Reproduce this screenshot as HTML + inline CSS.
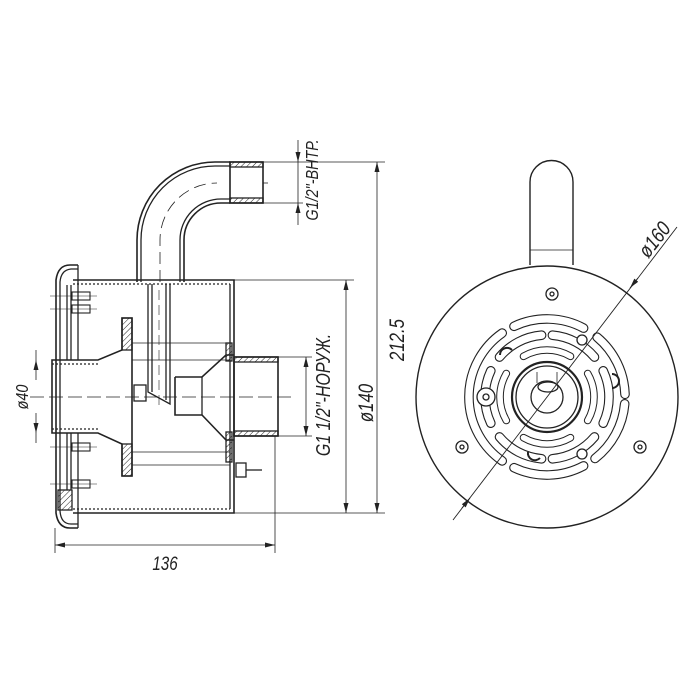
<!DOCTYPE html>
<html><head><meta charset="utf-8"><style>
html,body{margin:0;padding:0;background:#fff;width:700px;height:700px;overflow:hidden}
svg{display:block}
text{font-family:"Liberation Sans",sans-serif;font-style:italic;fill:#222}
</style></head><body>
<svg width="700" height="700" viewBox="0 0 700 700" xmlns="http://www.w3.org/2000/svg" fill="none" stroke="#222" stroke-width="1.3">
<defs>
<marker id="a" viewBox="0 0 12 6" refX="12" refY="3" markerWidth="12" markerHeight="5" markerUnits="userSpaceOnUse" orient="auto-start-reverse"><path d="M0,0 L12,3 L0,6 z" fill="#222" stroke="none"/></marker>
<pattern id="h" width="4" height="4" patternUnits="userSpaceOnUse" patternTransform="rotate(45)"><line x1="0" y1="0" x2="0" y2="4" stroke="#222" stroke-width="1"/></pattern>
</defs>
<!-- LEFT VIEW -->
<path d="M137,282 V240 A78,78 0 0 1 215,162 H230" stroke-width="1.6"/>
<path d="M141,282 V240 A74,74 0 0 1 215,166 H230"/>
<path d="M184,282 V240 A37,37 0 0 1 221,203 H230" stroke-width="1.6"/>
<path d="M180,282 V240 A41,41 0 0 1 221,199 H230"/>
<path d="M160,282 V240 A57,57 0 0 1 217,183" stroke-dasharray="12,6" stroke-width="0.8"/>
<rect x="230" y="162" width="33" height="41" stroke-width="1.6"/>
<rect x="230" y="162" width="33" height="5" fill="url(#h)"/>
<rect x="230" y="198" width="33" height="5" fill="url(#h)"/>
<line x1="263" y1="183" x2="268" y2="183" stroke-width="0.8"/>
<path d="M73,280 H234 V513 H73" stroke-width="1.6"/>
<line x1="73" y1="284" x2="230" y2="284" stroke-dasharray="2,2"/>
<line x1="73" y1="509" x2="230" y2="509" stroke-dasharray="2,2"/>
<line x1="230" y1="284" x2="230" y2="509"/>
<path d="M78,265 H70 Q58,265 56,280 V513 Q58,528 70,528 H78" stroke-width="1.6"/>
<path d="M78,269 H71 Q61,270 60,282 V511 Q61,524 71,524 H78"/>
<line x1="78" y1="265" x2="78" y2="360"/><line x1="78" y1="433" x2="78" y2="528"/>
<line x1="67" y1="285" x2="67" y2="360"/><line x1="71" y1="285" x2="71" y2="360"/>
<line x1="67" y1="433" x2="67" y2="490"/><line x1="71" y1="433" x2="71" y2="490"/>
<rect x="58" y="490" width="14" height="20" fill="url(#h)"/>
<g stroke-width="1.1"><rect x="72" y="292" width="18" height="8"/><rect x="72" y="305" width="18" height="8"/><rect x="72" y="443" width="18" height="8"/><rect x="72" y="480" width="18" height="8"/>
<line x1="50" y1="296" x2="97" y2="296" stroke-width="0.6"/><line x1="50" y1="309" x2="97" y2="309" stroke-width="0.6"/><line x1="50" y1="447" x2="97" y2="447" stroke-width="0.6"/><line x1="50" y1="484" x2="97" y2="484" stroke-width="0.6"/></g>
<path d="M52,360 H98 L122,350 V318 H132 V476 H122 V444 L98,433 H52 Z" stroke-width="1.6"/>
<rect x="122" y="318" width="10" height="32" fill="url(#h)"/>
<rect x="122" y="444" width="10" height="32" fill="url(#h)"/>
<line x1="52" y1="364" x2="98" y2="364" stroke-dasharray="2,2"/>
<line x1="52" y1="429" x2="98" y2="429" stroke-dasharray="2,2"/>
<line x1="132" y1="343" x2="230" y2="343" stroke-width="0.8"/>
<line x1="132" y1="360" x2="230" y2="360" stroke-width="0.8"/>
<line x1="132" y1="452" x2="230" y2="452" stroke-width="0.8"/>
<line x1="132" y1="465" x2="230" y2="465" stroke-width="0.8"/>
<path d="M148,284 V392 L170,404 V284"/>
<line x1="152" y1="284" x2="152" y2="392"/><line x1="166" y1="284" x2="166" y2="400"/>
<line x1="159" y1="290" x2="159" y2="405" stroke-dasharray="10,5" stroke-width="0.6"/>
<rect x="134" y="385" width="12" height="16"/>
<path d="M175,377 H202 L226,355 H234 M175,377 V415 H202 L226,440 H234" stroke-width="1.6"/>
<line x1="202" y1="377" x2="202" y2="415"/>
<rect x="226" y="343" width="6" height="18" fill="url(#h)"/>
<rect x="226" y="432" width="6" height="30" fill="url(#h)"/>
<rect x="234" y="357" width="44" height="79" stroke-width="1.6"/>
<rect x="234" y="357" width="44" height="5" fill="url(#h)"/>
<rect x="234" y="431" width="44" height="5" fill="url(#h)"/>
<rect x="236" y="463" width="10" height="14"/><line x1="246" y1="470" x2="262" y2="470"/>
<line x1="30" y1="397" x2="292" y2="397" stroke-dasharray="14,5" stroke-width="0.7"/>
<g stroke-width="0.8">
<line x1="263" y1="162" x2="385" y2="162"/><line x1="234" y1="513" x2="385" y2="513"/>
<line x1="377" y1="162" x2="377" y2="513" marker-start="url(#a)" marker-end="url(#a)"/>
<line x1="234" y1="280" x2="354" y2="280"/>
<line x1="346" y1="280" x2="346" y2="513" marker-start="url(#a)" marker-end="url(#a)"/>
<line x1="278" y1="357" x2="312" y2="357"/><line x1="278" y1="436" x2="312" y2="436"/>
<line x1="306" y1="357" x2="306" y2="436" marker-start="url(#a)" marker-end="url(#a)"/>
<line x1="263" y1="203" x2="303" y2="203"/>
<line x1="298" y1="140" x2="298" y2="162" marker-end="url(#a)"/>
<line x1="298" y1="225" x2="298" y2="203" marker-end="url(#a)"/>
<line x1="298" y1="162" x2="298" y2="203"/>
<line x1="55" y1="528" x2="55" y2="553"/><line x1="275" y1="436" x2="275" y2="553"/>
<line x1="55" y1="545" x2="275" y2="545" marker-start="url(#a)" marker-end="url(#a)"/>
<line x1="36" y1="350" x2="36" y2="360"/><line x1="36" y1="433" x2="36" y2="443"/>
<line x1="36" y1="380" x2="36" y2="360" marker-end="url(#a)"/>
<line x1="36" y1="413" x2="36" y2="433" marker-end="url(#a)"/>
</g>
<g stroke="none">
<text transform="translate(165,570) scale(0.8,1)" font-size="19" text-anchor="middle">136</text>
<text transform="translate(404,340) rotate(-90) scale(0.8,1)" font-size="21" text-anchor="middle">212.5</text>
<text transform="translate(373,403) rotate(-90) scale(0.8,1)" font-size="21" text-anchor="middle">ø140</text>
<text transform="translate(330,395) rotate(-90) scale(0.8,1)" font-size="20" text-anchor="middle">G1 1/2"-НОРУЖ.</text>
<text transform="translate(318,180) rotate(-90) scale(0.8,1)" font-size="18" text-anchor="middle">G1/2"-ВНТР.</text>
<text transform="translate(28,397) rotate(-90) scale(0.8,1)" font-size="18" text-anchor="middle">ø40</text>
</g>
<!-- RIGHT VIEW -->
<path d="M530,265 V182 A21.5,21.5 0 0 1 573,182 V265" stroke-width="1.4"/>
<line x1="530" y1="250" x2="573" y2="250" stroke-width="0.8"/>
<circle cx="547" cy="397" r="131" stroke-width="1.4"/>
<circle cx="552" cy="294" r="6"/><circle cx="552" cy="294" r="2"/>
<circle cx="462" cy="447" r="6"/><circle cx="462" cy="447" r="2"/>
<circle cx="640" cy="447" r="6"/><circle cx="640" cy="447" r="2"/>
<g stroke-linecap="round">
<g stroke="#222" stroke-width="9.6">
<path d="M514,326.3 A78,78 0 0 1 583.6,328.1"/>
<path d="M583.6,465.9 A78,78 0 0 1 514,467.7"/>
<path d="M502.2,460.9 A78,78 0 0 1 502.2,333.1"/>
<path d="M597.1,337.2 A78,78 0 0 1 625,394.3"/>
<path d="M624.7,403.8 A78,78 0 0 1 595,458.5"/>
<path d="M499.5,357.1 A62,62 0 0 1 541.6,335.2"/>
<path d="M552.4,335.2 A62,62 0 0 1 594.5,357.1"/>
<path d="M603.2,370.8 A62,62 0 0 1 603.2,423.2"/>
<path d="M594.5,436.9 A62,62 0 0 1 552.4,458.8"/>
<path d="M541.6,458.8 A62,62 0 0 1 499.5,436.9"/>
<path d="M490.8,423.2 A62,62 0 0 1 490.8,370.8"/>
</g>
<g stroke="#fff" stroke-width="7.4">
<path d="M514,326.3 A78,78 0 0 1 583.6,328.1"/>
<path d="M583.6,465.9 A78,78 0 0 1 514,467.7"/>
<path d="M502.2,460.9 A78,78 0 0 1 502.2,333.1"/>
<path d="M597.1,337.2 A78,78 0 0 1 625,394.3"/>
<path d="M624.7,403.8 A78,78 0 0 1 595,458.5"/>
<path d="M499.5,357.1 A62,62 0 0 1 541.6,335.2"/>
<path d="M552.4,335.2 A62,62 0 0 1 594.5,357.1"/>
<path d="M603.2,370.8 A62,62 0 0 1 603.2,423.2"/>
<path d="M594.5,436.9 A62,62 0 0 1 552.4,458.8"/>
<path d="M541.6,458.8 A62,62 0 0 1 499.5,436.9"/>
<path d="M490.8,423.2 A62,62 0 0 1 490.8,370.8"/>
</g>
<g stroke="#222" stroke-width="7.6">
<path d="M523.5,356.3 A47,47 0 0 1 570.5,356.3"/>
<path d="M570.5,437.7 A47,47 0 0 1 523.5,437.7"/>
<path d="M587.7,373.5 A47,47 0 0 1 587.7,420.5"/>
<path d="M506.3,420.5 A47,47 0 0 1 506.3,373.5"/>
</g>
<g stroke="#fff" stroke-width="5.6">
<path d="M523.5,356.3 A47,47 0 0 1 570.5,356.3"/>
<path d="M570.5,437.7 A47,47 0 0 1 523.5,437.7"/>
<path d="M587.7,373.5 A47,47 0 0 1 587.7,420.5"/>
<path d="M506.3,420.5 A47,47 0 0 1 506.3,373.5"/>
</g>
</g>
<g stroke-width="1.3">
<circle cx="547" cy="397" r="35" stroke-width="2.2"/>
<circle cx="547" cy="397" r="31"/>
<circle cx="547" cy="397" r="16"/>
<line x1="537" y1="372" x2="537" y2="383" stroke-width="0.8"/><line x1="557" y1="372" x2="557" y2="383" stroke-width="0.8"/>
<ellipse cx="548" cy="387" rx="10" ry="5"/>
<circle cx="486" cy="397" r="9" fill="#fff"/><circle cx="486" cy="397" r="3"/>
<circle cx="582" cy="340" r="5" fill="#fff"/><circle cx="582" cy="454" r="5" fill="#fff"/>
<path d="M500,355 A7,7 0 0 1 512,350" stroke-width="2"/><path d="M612,374 A7,7 0 0 1 612,388" stroke-width="2"/><path d="M528,452 A7,7 0 0 0 540,458" stroke-width="2"/>
</g>
<line x1="453" y1="520" x2="677" y2="227" stroke-width="0.9"/>
<line x1="470" y1="498" x2="462" y2="508" marker-start="url(#a)" stroke-width="0.9"/>
<line x1="630" y1="288" x2="638" y2="278" marker-start="url(#a)" stroke-width="0.9"/>
<text transform="translate(660,244) rotate(-52) scale(0.8,1)" font-size="21" text-anchor="middle" stroke="none">ø160</text>
</svg>
</body></html>
